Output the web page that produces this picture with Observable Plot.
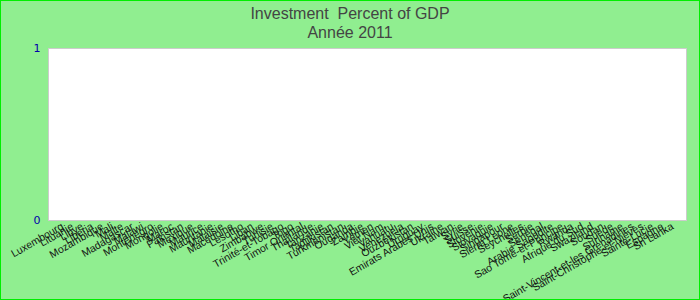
<!DOCTYPE html>
<html>
<head>
<meta charset="utf-8">
<script src="https://cdn.jsdelivr.net/npm/d3@7"></script>
<script src="https://cdn.jsdelivr.net/npm/@observablehq/plot@0.6"></script>
<style>
  html, body { margin: 0; padding: 0; }
  #frame {
    width: 698px; height: 298px; border: 1px solid #00ee00;
    background: #90ee90; overflow: hidden; position: relative;
    font-family: "Liberation Sans", Arial, sans-serif;
  }
  #title { height: 39px; text-align: center; color: #444; font-size: 16px; line-height: 19px; padding-top: 3px; box-sizing: border-box; overflow: visible; }
</style>
</head>
<body>
<div id="frame">
  <div id="title">Investment&nbsp; Percent of GDP<br>Année 2011</div>
  <div id="chart"></div>
</div>
<script>
const countries = [
  "Luxembourg","Lituanie","Libye","Liberia","Mozambique","Mali","Malte","Madagascar",
  "Malawi","Monténégro","Mongolie","Maroc","Pakistan","Mexique","Maurice","Mauritanie",
  "Malaisie","Macédoine","Lesotho","Liban","Zimbabwe","Tunisie","Trinité-et-Tobago","Togo",
  "Timor Oriental","Thaïlande","Tanzanie","Tadjikistan","Turkménistan","Ouganda","Zambie","Yémen",
  "Viêt Nam","Vanuatu","Venezuela","Ouzbékistan","Uruguay","Emirats Arabes Unis","Ukraine","Taïwan",
  "Syrie","Suisse","Slovénie","Slovaquie","Singapour","Sierra Leone","Seychelles","Serbie",
  "Sénégal","Arabie Saoudite","Sao Tomé-et-Principe","Rwanda","Afrique du Sud","Swaziland","Soudan","Suède",
  "Suriname","Saint-Vincent-et-les Grenadines","Saint-Christophe-et-Niévès","Sainte-Lucie","Espagne","Sri Lanka"
];
const values = [
  0,0,0,0,0,0,0,0,0,0,0,0,0,0,0,0,
  0,0,0,0,0,0,0,0,0,0,0,0,0,0,0,0,
  0,0,0,0,0,0,0,0,0,0,0,0,0,0,0,0,
  0,0,0,0,0,0,0,0,0,0,0,0,0,0
];
const yTicks = [0, 1];

const data = countries.map((c, i) => ({country: c, value: values[i]}));

const chart = Plot.plot({
  width: 698,
  height: 259,
  marginTop: 8,
  marginLeft: 47,
  marginRight: 13,
  marginBottom: 79,
  style: {background: "transparent", fontFamily: "Liberation Sans, Arial, sans-serif", fontSize: "11px", color: "#222", overflow: "visible"},
  x: {type: "band", domain: countries, label: null, padding: 0.2},
  y: {domain: [0, 1], label: null},
  marks: [
    Plot.frame({fill: "white", stroke: "#cccccc"}),
    Plot.barY(data, {x: "country", y: "value", fill: "#4472c4"}),
    Plot.axisX({tickSize: 0, tickPadding: 5, tickRotate: -30, fill: "#111", fontSize: 10.5}),
    Plot.axisY(yTicks, {tickSize: 0, tickPadding: 8, tickFormat: d3.format("d"), fill: "#0000aa", fontFamily: "DejaVu Sans, sans-serif", fontSize: 11})
  ]
});
document.getElementById("chart").appendChild(chart);
</script>
</body>
</html>
